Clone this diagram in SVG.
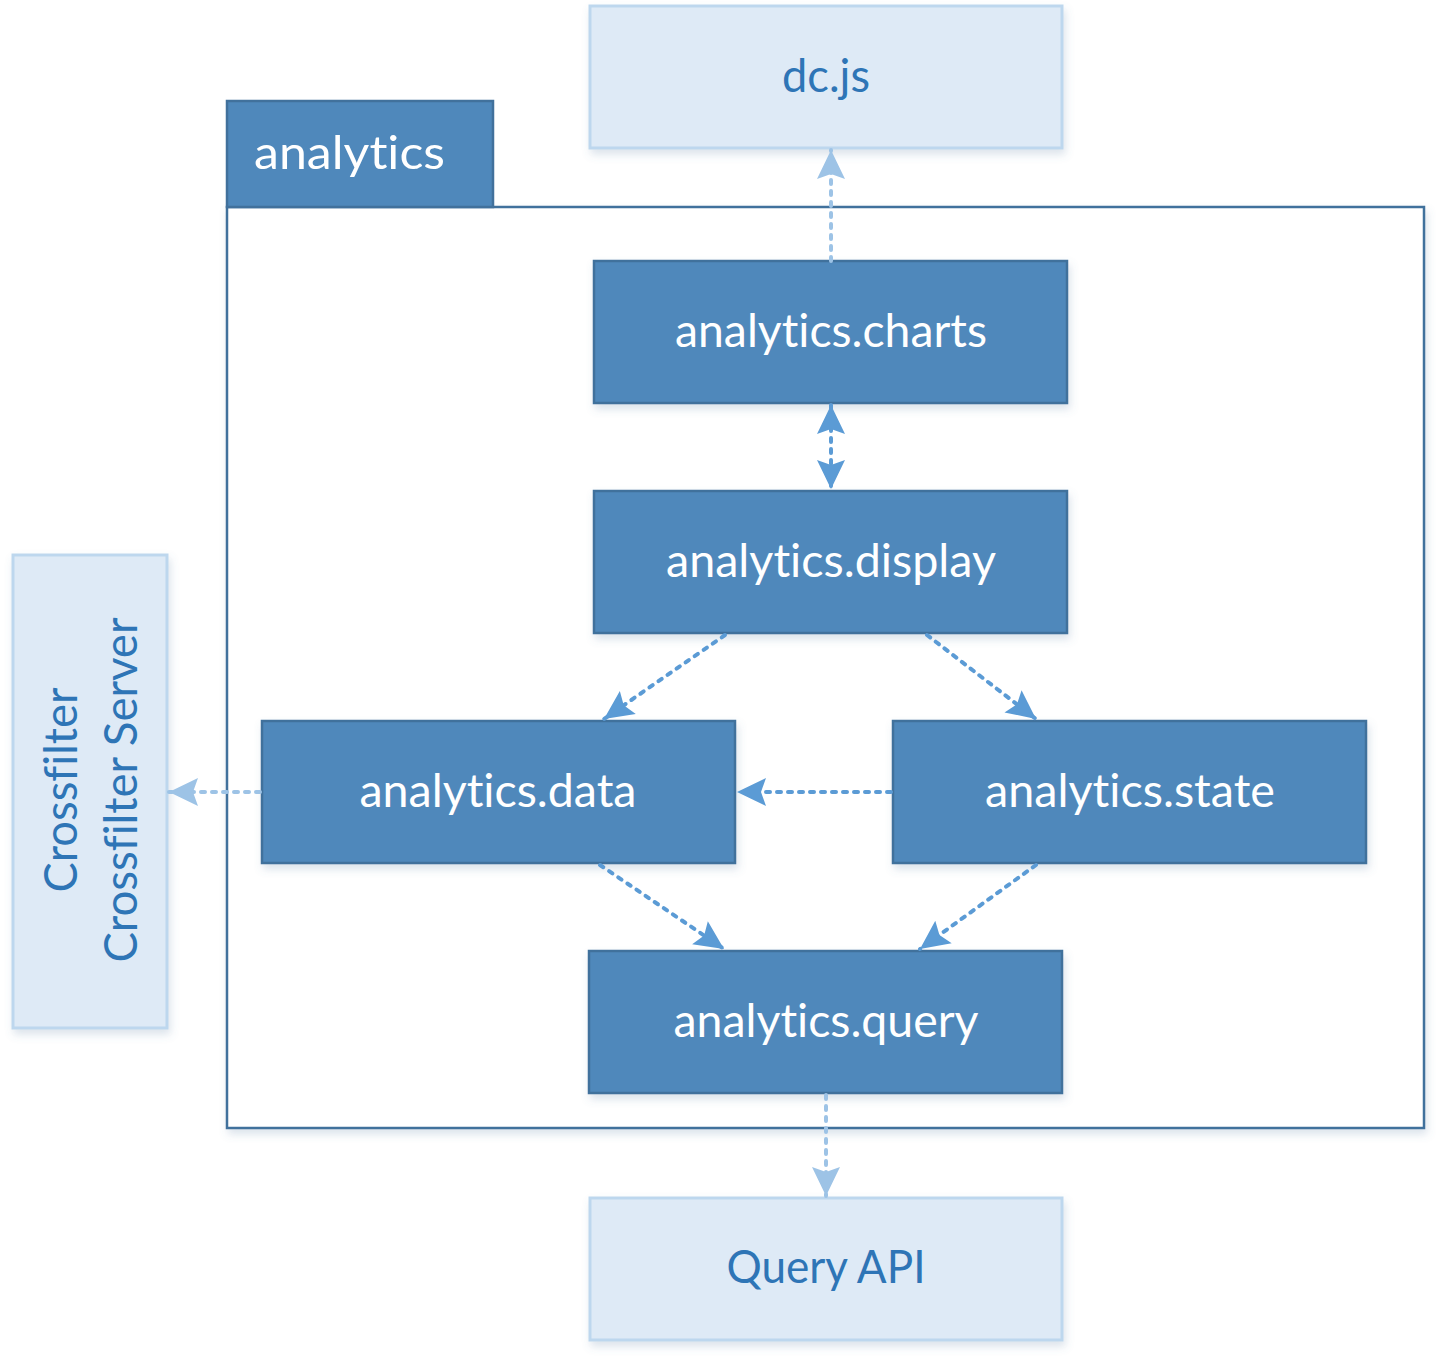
<svg xmlns="http://www.w3.org/2000/svg" width="1442" height="1364" viewBox="0 0 1442 1364">
<style>
.dark{fill:#4F88BB;stroke:#41719C;stroke-width:2.5}
.light{fill:#DEEAF6;stroke:#BDD7EE;stroke-width:3}
.pkg{fill:#FFFFFF;stroke:#41719C;stroke-width:2.5}
.tw{font-family:Lato,"Open Sans","Liberation Sans",sans-serif;font-size:46px;fill:#FFFFFF;font-variant-ligatures:none;font-feature-settings:"liga" 0,"clig" 0}
.tb{font-family:Lato,"Open Sans","Liberation Sans",sans-serif;font-size:46px;fill:#2E75B6;font-variant-ligatures:none;font-feature-settings:"liga" 0,"clig" 0}
.c1{fill:none;stroke:#5B9BD5;stroke-width:4;stroke-dasharray:4 7;stroke-linecap:round}
.c2{fill:none;stroke:#9DC3E6;stroke-width:4;stroke-dasharray:4 7;stroke-linecap:round}
</style>
<defs>
<filter id="sh" x="-10%" y="-10%" width="120%" height="130%">
<feDropShadow dx="2" dy="5" stdDeviation="4" flood-color="#5B7FA6" flood-opacity="0.22"/>
</filter>
<marker id="ad" markerUnits="userSpaceOnUse" viewBox="-30 -15 31 30" refX="0" refY="0" markerWidth="31" markerHeight="30" orient="auto-start-reverse">
<path d="M0,0 L-29,-14 L-24,0 L-29,14 Z" fill="#5B9BD5"/>
</marker>
<marker id="al" markerUnits="userSpaceOnUse" viewBox="-30 -15 31 30" refX="0" refY="0" markerWidth="31" markerHeight="30" orient="auto-start-reverse">
<path d="M0,0 L-29,-14 L-24,0 L-29,14 Z" fill="#9DC3E6"/>
</marker>
</defs>

<g id="package-analytics">
<rect class="pkg" x="227" y="207" width="1197" height="921" filter="url(#sh)"/>
<rect class="dark" x="227" y="101" width="266" height="106"/>
<text class="tw" x="254" y="169" textLength="191" lengthAdjust="spacingAndGlyphs">analytics</text>
</g>

<g id="node-dcjs">
<rect class="light" x="590" y="6" width="472" height="142" filter="url(#sh)"/>
<text class="tb" x="826" y="92" text-anchor="middle" textLength="88" lengthAdjust="spacingAndGlyphs">dc.js</text>
</g>

<g id="node-charts">
<rect class="dark" x="594" y="261" width="473" height="142" filter="url(#sh)"/>
<text class="tw" x="831" y="347" text-anchor="middle" textLength="312" lengthAdjust="spacingAndGlyphs">analytics.charts</text>
</g>

<g id="node-display">
<rect class="dark" x="594" y="491" width="473" height="142" filter="url(#sh)"/>
<text class="tw" x="831" y="577" text-anchor="middle" textLength="330" lengthAdjust="spacingAndGlyphs">analytics.display</text>
</g>

<g id="node-data">
<rect class="dark" x="262" y="721" width="473" height="142" filter="url(#sh)"/>
<text class="tw" x="498" y="807" text-anchor="middle" textLength="277" lengthAdjust="spacingAndGlyphs">analytics.data</text>
</g>

<g id="node-state">
<rect class="dark" x="893" y="721" width="473" height="142" filter="url(#sh)"/>
<text class="tw" x="1130" y="807" text-anchor="middle" textLength="290" lengthAdjust="spacingAndGlyphs">analytics.state</text>
</g>

<g id="node-query">
<rect class="dark" x="589" y="951" width="473" height="142" filter="url(#sh)"/>
<text class="tw" x="826" y="1037" text-anchor="middle" textLength="305" lengthAdjust="spacingAndGlyphs">analytics.query</text>
</g>

<g id="node-queryapi">
<rect class="light" x="590" y="1198" width="472" height="142" filter="url(#sh)"/>
<text class="tb" x="826" y="1283" text-anchor="middle" textLength="199" lengthAdjust="spacingAndGlyphs">Query API</text>
</g>

<g id="node-crossfilter">
<rect class="light" x="13" y="555" width="154" height="473" filter="url(#sh)"/>
<text class="tb" transform="translate(77 790) rotate(-90)" x="0" y="0" text-anchor="middle" textLength="205" lengthAdjust="spacingAndGlyphs">Crossfilter</text>
<text class="tb" transform="translate(137 790) rotate(-90)" x="0" y="0" text-anchor="middle" textLength="345" lengthAdjust="spacingAndGlyphs">Crossfilter Server</text>
</g>

<g id="connectors">
<line class="c2" x1="831" y1="261" x2="831" y2="150" marker-end="url(#al)"/>
<line class="c1" x1="831" y1="405" x2="831" y2="489" marker-start="url(#ad)" marker-end="url(#ad)"/>
<line class="c1" x1="725" y1="635" x2="604" y2="719" marker-end="url(#ad)"/>
<line class="c1" x1="927" y1="635" x2="1036" y2="719" marker-end="url(#ad)"/>
<line class="c1" x1="891" y1="792" x2="737" y2="792" marker-end="url(#ad)"/>
<line class="c2" x1="260" y1="792" x2="169" y2="792" marker-end="url(#al)"/>
<line class="c1" x1="600" y1="865" x2="724" y2="949" marker-end="url(#ad)"/>
<line class="c1" x1="1036" y1="865" x2="920" y2="949" marker-end="url(#ad)"/>
<line class="c2" x1="826" y1="1095" x2="826" y2="1196" marker-end="url(#al)"/>
</g>
</svg>
